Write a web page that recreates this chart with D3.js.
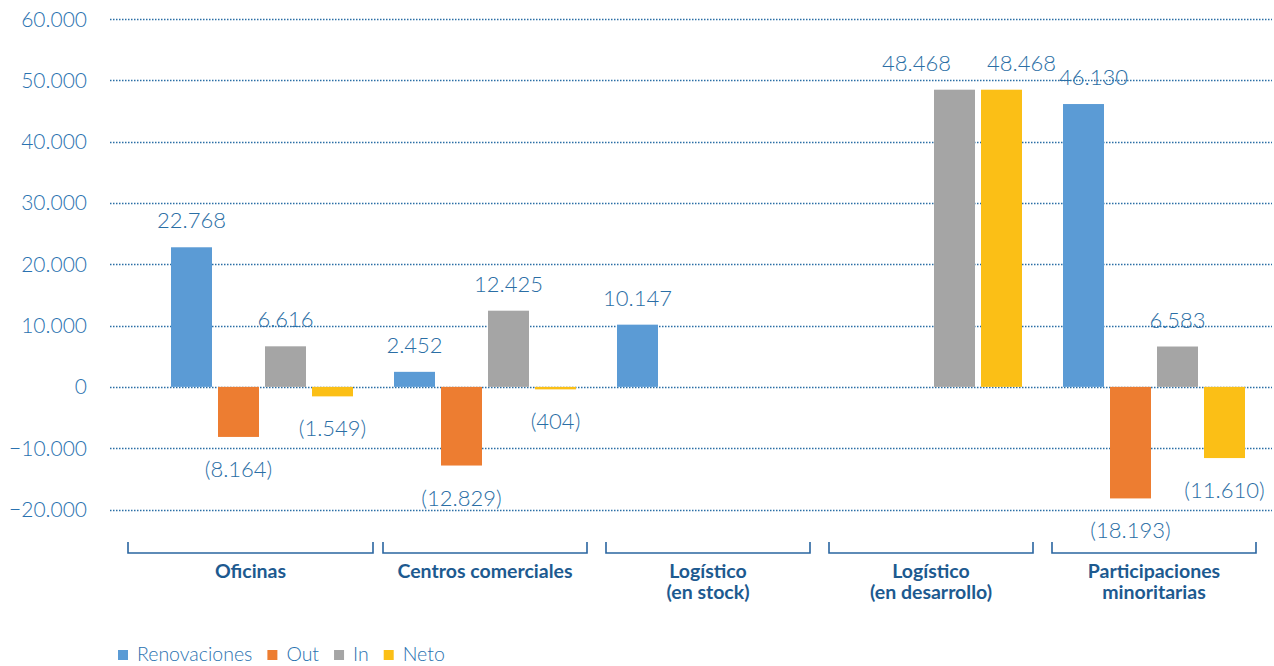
<!DOCTYPE html>
<html><head><meta charset="utf-8">
<script src="https://cdn.jsdelivr.net/npm/d3@7/dist/d3.min.js"></script>
<style>
body{margin:0;background:#fff;}
svg{display:block;}
</style></head>
<body>
<svg id="chart" width="1274" height="666"></svg>
<script>
const categories = [["Oficinas"], ["Centros comerciales"], ["Logístico", "(en stock)"], ["Logístico", "(en desarrollo)"], ["Participaciones", "minoritarias"]];
const series = ["Renovaciones", "Out", "In", "Neto"];
const renovaciones = [22768, 2452, 10147, null, 46130];
const outVals = [-8164, -12829, null, null, -18193];
const inVals = [6616, 12425, null, 48468, 6583];
const neto = [-1549, -404, null, 48468, -11610];
const yTicks = [-20000, -10000, 0, 10000, 20000, 30000, 40000, 50000, 60000];
const colors = ["#5b9bd5", "#ed7d31", "#a5a5a5", "#fbbf16"];

const values = [renovaciones, outVals, inVals, neto];
const fmt = v => {
  const s = d3.format(",")(Math.abs(v)).replace(/,/g, ".");
  return v < 0 ? "(" + s + ")" : s;
};
// label nudges to avoid overlaps (layout only)
const labelDx = {"3-2": -38, "3-3": 20, "4-0": 10};

const svg = d3.select("#chart");
const y = d3.scaleLinear().domain([-20000, 60000]).range([509.5, 19]);
const x0 = d3.scaleBand().domain(d3.range(categories.length)).range([150.5, 1265.5]).paddingInner(0).paddingOuter(0);
const x1 = d3.scaleBand().domain(d3.range(series.length)).range([-94, 94]).paddingInner(0.128).paddingOuter(0.064);

// gridlines
svg.append("g").selectAll("line").data(yTicks).join("line")
  .attr("x1", 110).attr("x2", 1272)
  .attr("y1", d => Math.round(y(d)) + 0.5).attr("y2", d => Math.round(y(d)) + 0.5)
  .attr("stroke", "#2a6ea5").attr("stroke-width", 1.6).attr("stroke-dasharray", "1.5,1.5");

// y tick labels
svg.append("g").selectAll("text").data(yTicks).join("text")
  .attr("x", 87).attr("y", d => y(d) + 7.5)
  .attr("text-anchor", "end")
  .attr("font-family", "Lato, sans-serif").attr("font-weight", 300).attr("font-size", 21)
  .attr("fill", "#2a72b0")
  .text(d => d === 0 ? "0" : d3.format(",")(d).replace(/,/g, "."));

// bars
const bars = [];
categories.forEach((c, gi) => series.forEach((s, si) => {
  const v = values[si][gi];
  if (v !== null) bars.push({gi, si, v});
}));
const cx = d => x0(d.gi) + x0.bandwidth() / 2 + x1(d.si);
svg.append("g").selectAll("rect").data(bars).join("rect")
  .attr("x", cx)
  .attr("width", x1.bandwidth())
  .attr("y", d => y(Math.max(0, d.v)))
  .attr("height", d => Math.abs(y(d.v) - y(0)))
  .attr("fill", d => colors[d.si]);

// value labels
svg.append("g").selectAll("text").data(bars).join("text")
  .attr("x", d => cx(d) + x1.bandwidth() / 2 + (labelDx[d.gi + "-" + d.si] || 0))
  .attr("y", d => d.v >= 0 ? y(d.v) - 19 : y(d.v) + 40)
  .attr("text-anchor", "middle")
  .attr("font-family", "Lato, sans-serif").attr("font-weight", 300).attr("font-size", 22)
  .attr("fill", "#2a6ea5")
  .text(d => fmt(d.v));

// brackets
const bp = 9.5;
const brG = svg.append("g");
categories.forEach((c, gi) => {
  const a = x0(gi) + bp + (gi === 0 ? -32 : 0), b = x0(gi) + x0.bandwidth() - bp + (gi === 0 ? 9 : 0);
  brG.append("path")
    .attr("d", `M${a},542 V553 H${b} V542`)
    .attr("fill", "none").attr("stroke", "#2a65a0").attr("stroke-width", 1.6);
  const t = brG.append("text")
    .attr("text-anchor", "middle")
    .attr("font-family", "Lato, sans-serif").attr("font-weight", 700).attr("font-size", 19.5)
    .attr("fill", "#1d5a90");
  c.forEach((line, li) => t.append("tspan").attr("x", (a + b) / 2).attr("y", 578 + li * 21).text(line));
});

// legend
const lg = svg.append("g").attr("transform", "translate(118,650)");
let lx = 0;
series.forEach((s, i) => {
  lg.append("rect").attr("x", lx).attr("y", 0).attr("width", 10).attr("height", 10).attr("fill", colors[i]);
  const t = lg.append("text").attr("x", lx + 19).attr("y", 10.5)
    .attr("font-family", "Lato, sans-serif").attr("font-weight", 300).attr("font-size", 19.5)
    .attr("fill", "#2a72b0").text(s);
  lx += 19 + t.node().getComputedTextLength() + 15;
});
</script>
</body></html>
